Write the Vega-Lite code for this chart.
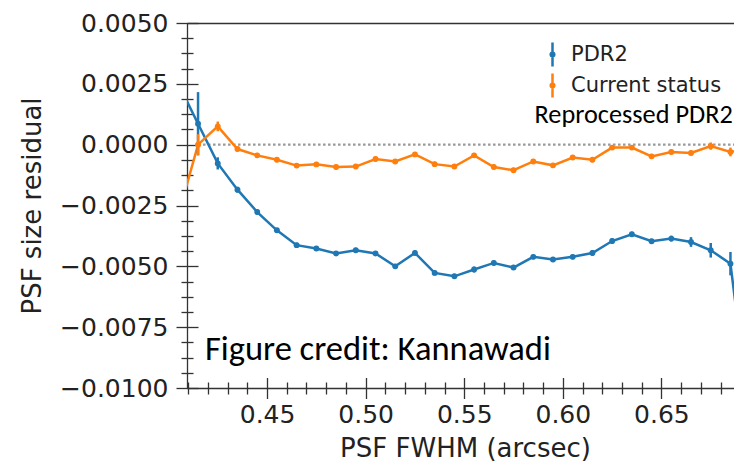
{
  "$schema": "https://vega.github.io/schema/vega-lite/v6.json",
  "width": 547,
  "height": 365,
  "autosize": {"type": "none"},
  "padding": {"left": 187, "top": 23, "right": 0, "bottom": 73},
  "background": "white",
  "config": {
    "view": {"stroke": null},
    "font": "DejaVu Sans",
    "axis": {
      "grid": false,
      "domainColor": "#333333",
      "tickColor": "#333333",
      "labelColor": "#222222",
      "titleColor": "#222222",
      "labelFont": "DejaVu Sans",
      "titleFont": "DejaVu Sans",
      "titleFontWeight": "normal",
      "domainWidth": 1.3,
      "tickWidth": 1.3
    }
  },
  "datasets": {
    "series": [
      {"series": "PDR2", "x": 0.405, "y": 0.0025, "lo": 0.0025, "hi": 0.0025},
      {"series": "PDR2", "x": 0.415, "y": 0.00086, "lo": -0.00044, "hi": 0.00216},
      {"series": "PDR2", "x": 0.425, "y": -0.00077, "lo": -0.00102, "hi": -0.00052},
      {"series": "PDR2", "x": 0.435, "y": -0.00185, "lo": -0.00197, "hi": -0.00173},
      {"series": "PDR2", "x": 0.445, "y": -0.00277, "lo": -0.00287, "hi": -0.00267},
      {"series": "PDR2", "x": 0.455, "y": -0.00352, "lo": -0.00362, "hi": -0.00342},
      {"series": "PDR2", "x": 0.465, "y": -0.00413, "lo": -0.00423, "hi": -0.00403},
      {"series": "PDR2", "x": 0.475, "y": -0.00427, "lo": -0.00437, "hi": -0.00417},
      {"series": "PDR2", "x": 0.485, "y": -0.00447, "lo": -0.00457, "hi": -0.00437},
      {"series": "PDR2", "x": 0.495, "y": -0.00434, "lo": -0.00444, "hi": -0.00424},
      {"series": "PDR2", "x": 0.505, "y": -0.00447, "lo": -0.00457, "hi": -0.00437},
      {"series": "PDR2", "x": 0.515, "y": -0.005, "lo": -0.0051, "hi": -0.0049},
      {"series": "PDR2", "x": 0.525, "y": -0.00445, "lo": -0.00455, "hi": -0.00435},
      {"series": "PDR2", "x": 0.535, "y": -0.00527, "lo": -0.00537, "hi": -0.00517},
      {"series": "PDR2", "x": 0.545, "y": -0.00541, "lo": -0.00551, "hi": -0.00531},
      {"series": "PDR2", "x": 0.555, "y": -0.00513, "lo": -0.00525, "hi": -0.00501},
      {"series": "PDR2", "x": 0.565, "y": -0.00486, "lo": -0.00496, "hi": -0.00476},
      {"series": "PDR2", "x": 0.575, "y": -0.00505, "lo": -0.00515, "hi": -0.00495},
      {"series": "PDR2", "x": 0.585, "y": -0.00461, "lo": -0.00471, "hi": -0.00451},
      {"series": "PDR2", "x": 0.595, "y": -0.00472, "lo": -0.00482, "hi": -0.00462},
      {"series": "PDR2", "x": 0.605, "y": -0.00461, "lo": -0.00471, "hi": -0.00451},
      {"series": "PDR2", "x": 0.615, "y": -0.00445, "lo": -0.00457, "hi": -0.00433},
      {"series": "PDR2", "x": 0.625, "y": -0.00396, "lo": -0.00408, "hi": -0.00384},
      {"series": "PDR2", "x": 0.635, "y": -0.00368, "lo": -0.00378, "hi": -0.00358},
      {"series": "PDR2", "x": 0.645, "y": -0.00397, "lo": -0.00407, "hi": -0.00387},
      {"series": "PDR2", "x": 0.655, "y": -0.00386, "lo": -0.00398, "hi": -0.00374},
      {"series": "PDR2", "x": 0.665, "y": -0.004, "lo": -0.0042, "hi": -0.0038},
      {"series": "PDR2", "x": 0.675, "y": -0.00434, "lo": -0.00464, "hi": -0.00404},
      {"series": "PDR2", "x": 0.685, "y": -0.00489, "lo": -0.00537, "hi": -0.00441},
      {"series": "PDR2", "x": 0.695, "y": -0.0114, "lo": -0.0114, "hi": -0.0114},
      {"series": "Current status", "x": 0.405, "y": -0.0029, "lo": -0.0029, "hi": -0.0029},
      {"series": "Current status", "x": 0.415, "y": 0.0, "lo": -0.00043, "hi": 0.00043},
      {"series": "Current status", "x": 0.425, "y": 0.00075, "lo": 0.00055, "hi": 0.00095},
      {"series": "Current status", "x": 0.435, "y": -0.00018, "lo": -0.00028, "hi": -0.00008},
      {"series": "Current status", "x": 0.445, "y": -0.00044, "lo": -0.00054, "hi": -0.00034},
      {"series": "Current status", "x": 0.455, "y": -0.00062, "lo": -0.00072, "hi": -0.00052},
      {"series": "Current status", "x": 0.465, "y": -0.00086, "lo": -0.00096, "hi": -0.00076},
      {"series": "Current status", "x": 0.475, "y": -0.00081, "lo": -0.00091, "hi": -0.00071},
      {"series": "Current status", "x": 0.485, "y": -0.00092, "lo": -0.00102, "hi": -0.00082},
      {"series": "Current status", "x": 0.495, "y": -0.0009, "lo": -0.001, "hi": -0.0008},
      {"series": "Current status", "x": 0.505, "y": -0.00059, "lo": -0.00069, "hi": -0.00049},
      {"series": "Current status", "x": 0.515, "y": -0.00069, "lo": -0.00079, "hi": -0.00059},
      {"series": "Current status", "x": 0.525, "y": -0.0004, "lo": -0.0005, "hi": -0.0003},
      {"series": "Current status", "x": 0.535, "y": -0.0008, "lo": -0.0009, "hi": -0.0007},
      {"series": "Current status", "x": 0.545, "y": -0.0009, "lo": -0.001, "hi": -0.0008},
      {"series": "Current status", "x": 0.555, "y": -0.00044, "lo": -0.00054, "hi": -0.00034},
      {"series": "Current status", "x": 0.565, "y": -0.00092, "lo": -0.00102, "hi": -0.00082},
      {"series": "Current status", "x": 0.575, "y": -0.00105, "lo": -0.00115, "hi": -0.00095},
      {"series": "Current status", "x": 0.585, "y": -0.00069, "lo": -0.00079, "hi": -0.00059},
      {"series": "Current status", "x": 0.595, "y": -0.00085, "lo": -0.00095, "hi": -0.00075},
      {"series": "Current status", "x": 0.605, "y": -0.00053, "lo": -0.00063, "hi": -0.00043},
      {"series": "Current status", "x": 0.615, "y": -0.00062, "lo": -0.00072, "hi": -0.00052},
      {"series": "Current status", "x": 0.625, "y": -0.00012, "lo": -0.00022, "hi": -0.00002},
      {"series": "Current status", "x": 0.635, "y": -0.00012, "lo": -0.00022, "hi": -0.00002},
      {"series": "Current status", "x": 0.645, "y": -0.00048, "lo": -0.00058, "hi": -0.00038},
      {"series": "Current status", "x": 0.655, "y": -0.0003, "lo": -0.0004, "hi": -0.0002},
      {"series": "Current status", "x": 0.665, "y": -0.00034, "lo": -0.00044, "hi": -0.00024},
      {"series": "Current status", "x": 0.675, "y": -0.00006, "lo": -0.00021, "hi": 0.00009},
      {"series": "Current status", "x": 0.685, "y": -0.0003, "lo": -0.00048, "hi": -0.00012},
      {"series": "Current status", "x": 0.695, "y": -0.00012, "lo": -0.00012, "hi": -0.00012}
    ],
    "zero": [{"x1": 0.415, "x2": 0.72, "y": 0}],
    "credit": [{"x": 0.4185, "y": -0.00885, "label": "Figure credit: Kannawadi"}],
    "reproc": [{"x": 0.6862, "y": 0.00091, "label": "Reprocessed PDR2"}]
  },
  "resolve": {"axis": {"x": "independent", "y": "independent"}},
  "layer": [
    {
      "data": {"name": "zero"},
      "mark": {"type": "rule", "color": "#999999", "strokeDash": [2.5, 2.5], "strokeWidth": 2.2, "clip": true},
      "encoding": {
        "x": {
          "field": "x1", "type": "quantitative",
          "scale": {"domain": [0.4094, 0.6868], "nice": false, "zero": false},
          "axis": {
            "orient": "bottom",
            "values": [0.45, 0.5, 0.55, 0.6, 0.65],
            "format": ".2f",
            "ticks": false,
            "domain": true,
            "labelFontSize": 25,
            "labelPadding": 14,
            "title": "PSF FWHM (arcsec)",
            "titleFontSize": 26,
            "titlePadding": 8,
            "titleX": 278
          }
        },
        "x2": {"field": "x2"},
        "y": {
          "field": "y", "type": "quantitative",
          "scale": {"domain": [-0.01, 0.005], "nice": false, "zero": false},
          "axis": {
            "orient": "left",
            "values": [-0.01, -0.0075, -0.005, -0.0025, 0, 0.0025, 0.005],
            "format": ".4f",
            "ticks": false,
            "domain": true,
            "labelFontSize": 25,
            "labelPadding": 19,
            "title": "PSF size residual",
            "titleFontSize": 26,
            "titlePadding": 14
          }
        }
      }
    },
    {
      "data": {"name": "series"},
      "mark": {"type": "line", "strokeWidth": 2.5, "clip": true},
      "encoding": {
        "x": {
          "field": "x", "type": "quantitative",
          "scale": {"domain": [0.4094, 0.6868], "nice": false, "zero": false},
          "axis": {
            "orient": "bottom",
            "values": [0.45, 0.5, 0.55, 0.6, 0.65],
            "labels": false, "domain": false, "title": null,
            "ticks": true, "tickSize": 21, "offset": -10.5
          }
        },
        "y": {
          "field": "y", "type": "quantitative",
          "scale": {"domain": [-0.01, 0.005], "nice": false, "zero": false},
          "axis": {
            "orient": "left",
            "values": [-0.01, -0.0075, -0.005, -0.0025, 0, 0.0025, 0.005],
            "labels": false, "domain": false, "title": null,
            "ticks": true, "tickSize": 22, "offset": -11
          }
        },
        "color": {
          "field": "series", "type": "nominal",
          "scale": {"domain": ["PDR2", "Current status"], "range": ["#1f77b4", "#ff7f0e"]},
          "legend": {
            "title": null,
            "orient": "none",
            "legendX": 352,
            "legendY": 18,
            "padding": 0,
            "symbolType": "M0,-1V1M-0.15,0A0.15,0.15,0,1,1,0.15,0A0.15,0.15,0,1,1,-0.15,0Z",
            "symbolSize": 576,
            "symbolStrokeWidth": 2.5,
            "labelFontSize": 21,
            "labelFont": "DejaVu Sans",
            "labelColor": "#222222",
            "labelOffset": 5,
            "rowPadding": -9
          }
        }
      }
    },
    {
      "data": {"name": "series"},
      "mark": {"type": "rule", "strokeWidth": 2.5, "clip": true},
      "encoding": {
        "x": {
          "field": "x", "type": "quantitative",
          "scale": {"domain": [0.4094, 0.6868], "nice": false, "zero": false},
          "axis": {
            "orient": "bottom",
            "values": [0.41, 0.42, 0.43, 0.44, 0.46, 0.47, 0.48, 0.49, 0.51, 0.52, 0.53, 0.54, 0.56, 0.57, 0.58, 0.59, 0.61, 0.62, 0.63, 0.64, 0.66, 0.67, 0.68],
            "labels": false, "domain": false, "title": null,
            "ticks": true, "tickSize": 12, "offset": -6
          }
        },
        "y": {
          "field": "lo", "type": "quantitative",
          "scale": {"domain": [-0.01, 0.005], "nice": false, "zero": false},
          "axis": {
            "orient": "left",
            "values": [-0.009375, -0.00875, -0.008125, -0.006875, -0.00625, -0.005625, -0.004375, -0.00375, -0.003125, -0.001875, -0.00125, -0.000625, 0.000625, 0.00125, 0.001875, 0.003125, 0.00375, 0.004375],
            "labels": false, "domain": false, "title": null,
            "ticks": true, "tickSize": 12, "offset": -6
          }
        },
        "y2": {"field": "hi"},
        "color": {"field": "series", "type": "nominal", "scale": {"domain": ["PDR2", "Current status"], "range": ["#1f77b4", "#ff7f0e"]}, "legend": null}
      }
    },
    {
      "data": {"name": "series"},
      "mark": {"type": "point", "filled": true, "size": 35, "opacity": 1, "clip": true},
      "encoding": {
        "x": {
          "field": "x", "type": "quantitative",
          "scale": {"domain": [0.4094, 0.6868], "nice": false, "zero": false},
          "axis": {"orient": "top", "ticks": false, "labels": false, "domain": true, "title": null}
        },
        "y": {
          "field": "y", "type": "quantitative",
          "scale": {"domain": [-0.01, 0.005], "nice": false, "zero": false},
          "axis": null
        },
        "color": {"field": "series", "type": "nominal", "scale": {"domain": ["PDR2", "Current status"], "range": ["#1f77b4", "#ff7f0e"]}, "legend": null}
      }
    },
    {
      "data": {"name": "credit"},
      "mark": {"type": "text", "font": "Carlito, Lato, sans-serif", "fontSize": 34.5, "align": "left", "baseline": "alphabetic", "color": "#000000"},
      "encoding": {
        "x": {"field": "x", "type": "quantitative", "scale": {"domain": [0.4094, 0.6868], "nice": false, "zero": false}, "axis": null},
        "y": {"field": "y", "type": "quantitative", "scale": {"domain": [-0.01, 0.005], "nice": false, "zero": false}, "axis": null},
        "text": {"field": "label", "type": "nominal"}
      }
    },
    {
      "data": {"name": "reproc"},
      "mark": {"type": "text", "font": "Carlito, Lato, sans-serif", "fontSize": 26.3, "align": "right", "baseline": "alphabetic", "color": "#000000"},
      "encoding": {
        "x": {"field": "x", "type": "quantitative", "scale": {"domain": [0.4094, 0.6868], "nice": false, "zero": false}, "axis": null},
        "y": {"field": "y", "type": "quantitative", "scale": {"domain": [-0.01, 0.005], "nice": false, "zero": false}, "axis": null},
        "text": {"field": "label", "type": "nominal"}
      }
    }
  ]
}
